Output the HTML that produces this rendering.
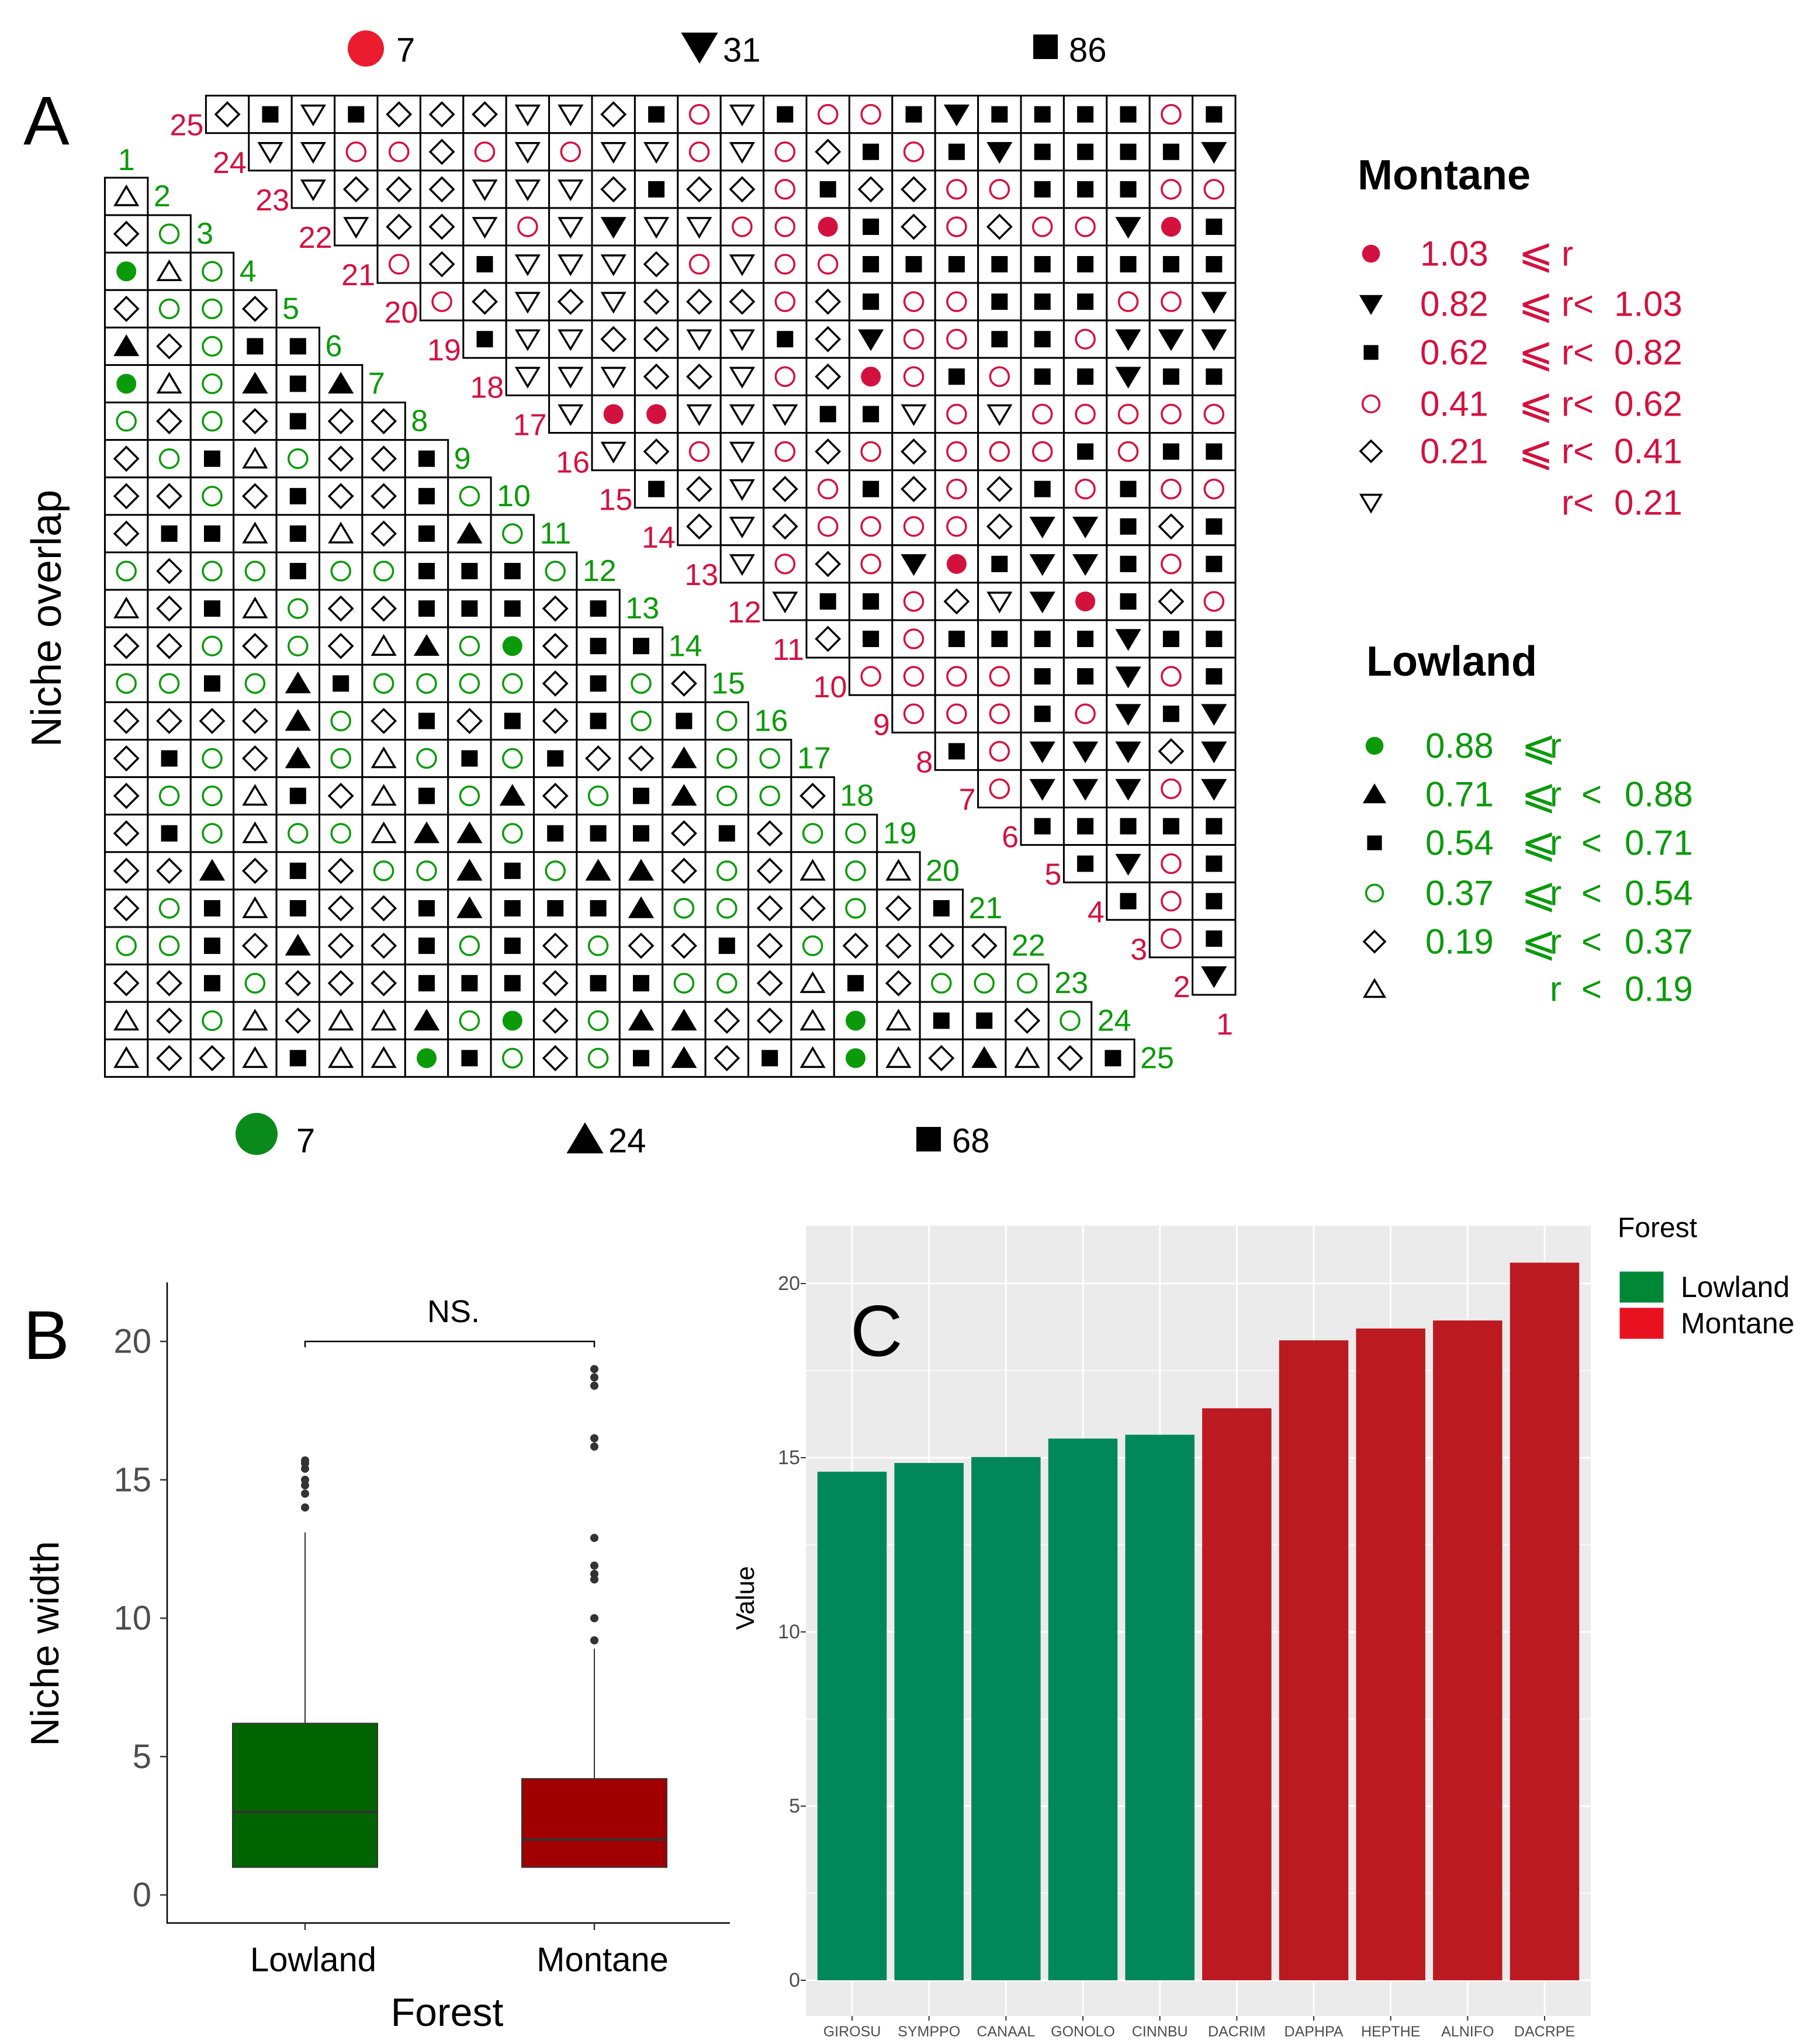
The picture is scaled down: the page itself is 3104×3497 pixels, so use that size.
<!DOCTYPE html>
<html><head><meta charset="utf-8"><style>
html,body{margin:0;padding:0;background:#fff;}
svg{display:block;}
text{font-family:"Liberation Sans","DejaVu Sans",sans-serif;}
</style></head>
<body>
<svg id="fig" width="3104" height="3497" viewBox="0 0 3104 3497" xmlns="http://www.w3.org/2000/svg">
<rect x="0" y="0" width="3104" height="3497" fill="#fff"/>
</svg>
<script>
// ---------- Panel A data ----------
const lowRows = ["T","Do","FTo","DooD","ADoSS","FToASA","oDoDSDD","DoSToDDS","DDoDSDDSo","DSSTSTDSAo","oDooSooSSSo","TDSToDDSSSDS","DDoDoDTAoFDSS","ooSoASooooDSoD","DDDDAoDSDSDSoSo","DSoDAoToSoSDDAoo","DooTSDTSoADoSAooD","DSoTooTAAoSSSDSDoo","DDADSDooASoAADoDToT","DoSTSDDSASSSAooDDoDS","ooSDADDSoSDoDDSDoDDDD","DDSoDDDSSSDSSooDTSDooo","TDoTDTTAoFDoAADDTFTSSDo","TDDTSTTFSoDoSADSTFTDATDS"];
const upRows = ["DSVSDDDVVDSoVSooSWSSSSoS","VVooDoVoVVoVoDSoSWSSSSW","VDDDVVVDSDDoSDDooSSSoo","VDDVoVWVVooRSDoDooWRS","oDSVVVDoVooSSSSSSSSS","oDVDVDDDoDSooSSSooW","SVVDDVVSDWooSSoWWW","VVVDDVoDRoSoSSWSS","VRRVVVSSVoVooooo","VDoVoDoDoooSoSS","SDVDoSDoDSoSoo","DVDooooDWWSDS","VoDoWRSWWSoS","VSSoDVWRSDo","DSoSSSSWSS","ooooSSWoS","oooSoWSW","SoWWWDW","oWWWoW","SSSSS","SWoS","SoS","oS","W"];
const topCounts = [7,31,86];
const bottomCounts = [7,24,68];
const montaneBreaks = ["1.03","0.82","0.62","0.41","0.21"];
const lowlandBreaks = ["0.88","0.71","0.54","0.37","0.19"];

// ---------- Panel B data ----------
const boxGroups = ["Lowland","Montane"];
const boxQ1 = [1.0, 1.0];
const boxMedian = [3.0, 2.0];
const boxQ3 = [6.2, 4.2];
const boxWhiskerLow = [1.0, 1.0];
const boxWhiskerHigh = [13.1, 8.9];
const lowlandOutliers = [14.0, 14.5, 14.8, 15.0, 15.4, 15.6, 15.7];
const montaneOutliers = [9.2, 10.0, 11.4, 11.6, 11.9, 12.9, 16.2, 16.5, 18.4, 18.7, 19.0];
const boxYTicks = [0,5,10,15,20];

// ---------- Panel C data ----------
const barCategories = ["GIROSU","SYMPPO","CANAAL","GONOLO","CINNBU","DACRIM","DAPHPA","HEPTHE","ALNIFO","DACRPE"];
const barValues = [14.6, 14.85, 15.02, 15.55, 15.66, 16.42, 18.37, 18.71, 18.94, 20.6];
const barForest = ["Lowland","Lowland","Lowland","Lowland","Lowland","Montane","Montane","Montane","Montane","Montane"];
const barYTicks = [0,5,10,15,20];

const NS = "http://www.w3.org/2000/svg";
const svg = document.getElementById('fig');
function mk(tag, attrs, parent){
  const e = document.createElementNS(NS, tag);
  for (const k in attrs) e.setAttribute(k, attrs[k]);
  (parent||svg).appendChild(e);
  return e;
}
function txt(s, attrs, parent){ const t = mk('text', attrs, parent); t.textContent = s; return t; }

const GREEN = "#0a9a0a", RED = "#d3113f";

function sym(ch, cx, cy, parent, scale){
  const s = scale||1;
  let e;
  if (ch==='T'||ch==='A'){
    e = mk('polygon',{points:`${cx-19*s},${cy+15*s} ${cx+19*s},${cy+15*s} ${cx},${cy-17*s}`, fill: ch==='A'?'#000':'none', stroke:'#000','stroke-width':3.5}, parent);
  } else if (ch==='V'||ch==='W'){
    e = mk('polygon',{points:`${cx-19*s},${cy-15*s} ${cx+19*s},${cy-15*s} ${cx},${cy+17*s}`, fill: ch==='W'?'#000':'none', stroke:'#000','stroke-width':3.5}, parent);
  } else if (ch==='D'){
    e = mk('polygon',{points:`${cx},${cy-20*s} ${cx+20*s},${cy} ${cx},${cy+20*s} ${cx-20*s},${cy}`, fill:'none', stroke:'#000','stroke-width':3.5}, parent);
  } else if (ch==='S'){
    e = mk('rect',{x:cx-14*s,y:cy-14*s,width:28*s,height:28*s,fill:'#000'}, parent);
  } else if (ch==='o'){
    e = mk('circle',{cx:cx,cy:cy,r:16*s,fill:'none',stroke:GREEN,'stroke-width':3.5}, parent);
  } else if (ch==='O'){
    e = mk('circle',{cx:cx,cy:cy,r:16*s,fill:'none',stroke:RED,'stroke-width':3.5}, parent);
  } else if (ch==='F'){
    e = mk('circle',{cx:cx,cy:cy,r:17*s,fill:GREEN}, parent);
  } else if (ch==='R'){
    e = mk('circle',{cx:cx,cy:cy,r:17*s,fill:RED}, parent);
  }
  return e;
}

// ================= Panel A =================
const gA = mk('g',{});


const X0 = 179.5, Y0 = 304, CW = 73.4, CH = 64.1;
const RIGHT = 2114, TOP = 163.6;

const gLow = mk('g',{},gA);


lowRows.forEach((row, ri) => {
  const k = ri+1;
  for (let i=0;i<row.length;i++){
    const x = X0 + i*CW, y = Y0 + (k-1)*CH;
    const cell = mk('g',{},gLow);
    
    
    mk('rect',{x:x,y:y,width:CW,height:CH,fill:'#fff',stroke:'#000','stroke-width':3},cell);
    sym(row[i], x+CW/2, y+CH/2, cell);
  }
});
const l1 = txt("1",{x:X0+CW/2,y:Y0-30,'font-size':52,fill:GREEN,'text-anchor':'middle','dominant-baseline':'central'},gA);


for (let k=1;k<=24;k++){
  const t = txt(String(k+1),{x:X0+k*CW+10,y:Y0+(k-0.5)*CH,'font-size':52,fill:GREEN,'dominant-baseline':'central'},gA);
  
  
}

const gUp = mk('g',{},gA);


upRows.forEach((row, ri) => {
  const j = ri+1;
  const n = row.length;
  const xs = RIGHT - n*CW;
  for (let i=0;i<n;i++){
    const x = xs + i*CW, y = TOP + (j-1)*CH;
    const cell = mk('g',{},gUp);
    
    
    mk('rect',{x:x,y:y,width:CW,height:CH,fill:'#fff',stroke:'#000','stroke-width':3},cell);
    const ch = row[i]==='o' ? 'O' : row[i];
    sym(ch, x+CW/2, y+CH/2, cell);
  }
});
for (let j=1;j<=25;j++){
  const n = 25-j;
  const t = txt(String(26-j),{x:RIGHT-n*CW-4,y:TOP+j*CH-13,'font-size':52,fill:RED,'text-anchor':'end','dominant-baseline':'central'},gA);
  
  
}

const topSyms = ['R','W','S'];
const topX = [626,1197,1789];
topSyms.forEach((c,i)=>{
  const g = mk('g',{},gA);
  
  
  if (c==='R') mk('circle',{cx:topX[i],cy:83,r:31,fill:'#ea1c2d'},g);
  else sym(c, topX[i], 80, g, 1.5);
  txt(String(topCounts[i]),{x:topX[i]+(c==='R'?52:40),y:86,'font-size':58,fill:'#000','dominant-baseline':'central'},g);
});
const botSyms = ['F','A','S'];
const botX = [439,1001,1589];
botSyms.forEach((c,i)=>{
  const g = mk('g',{},gA);
  
  
  if (c==='F') mk('circle',{cx:botX[i],cy:1940,r:36,fill:'#0a8a1a'},g);
  else sym(c, botX[i], 1949, g, 1.5);
  txt(String(bottomCounts[i]),{x:botX[i]+(c==='F'?68:40),y:1952,'font-size':58,fill:'#000','dominant-baseline':'central'},g);
});

const la = txt("A",{x:40,y:247,'font-size':118,fill:'#000'},gA);


const yA = txt("Niche overlap",{x:0,y:0,'font-size':72,fill:'#000','text-anchor':'middle',transform:'translate(104,1058) rotate(-90)'},gA);



// legends
const gML = mk('g',{},gA);


txt("Montane",{x:2323,y:300,'font-size':72,'font-weight':'bold',fill:'#000','dominant-baseline':'central'},gML);
const mSyms = ['R','W','S','O','D','V'];
const mY = [434,520,603,691,772,860];
mSyms.forEach((c,i)=>{
  const g = mk('g',{},gML);
  
  
  sym(c, 2346, mY[i], g, 0.9);
  const fs = {'font-size':60,fill:RED,'dominant-baseline':'central'};
  if (i<5) txt(montaneBreaks[i],Object.assign({x:2430,y:mY[i]},fs),g);
  if (i<5) txt("⩽",Object.assign({x:2598,y:mY[i]},fs,{'font-size':72}),g);
  txt(i===0?"r":"r<",Object.assign({x:2672,y:mY[i]},fs),g);
  if (i>0) txt(montaneBreaks[i-1],Object.assign({x:2762,y:mY[i]},fs),g);
});
const gLL = mk('g',{},gA);


txt("Lowland",{x:2338,y:1132,'font-size':72,'font-weight':'bold',fill:'#000','dominant-baseline':'central'},gLL);
const lSyms = ['F','A','S','o','D','T'];
const lY = [1276,1359,1442,1528,1611,1692];
lSyms.forEach((c,i)=>{
  const g = mk('g',{},gLL);
  
  
  sym(c, 2352, lY[i], g, 0.9);
  const fs = {'font-size':60,fill:GREEN,'dominant-baseline':'central'};
  if (i<5) txt(lowlandBreaks[i],Object.assign({x:2439,y:lY[i]},fs),g);
  if (i<5) txt("⩽",Object.assign({x:2603,y:lY[i]},fs,{'font-size':72}),g);
  txt("r",Object.assign({x:2652,y:lY[i]},fs),g);
  if (i>0) txt("<",Object.assign({x:2706,y:lY[i]},fs),g);
  if (i>0) txt(lowlandBreaks[i-1],Object.assign({x:2780,y:lY[i]},fs),g);
});

// ================= Panel B =================
const gB = mk('g',{});


const bAxX = 286, bTop = 2194, bBot = 3290, bRight = 1249;
const bY = v => 3242 - v*47.35;
const bX = i => [522,1017][i];
const boxFill = ["#006400","#a00000"];
const lb = txt("B",{x:40,y:2325,'font-size':118,fill:'#000'},gB);


const bAxes = mk('path',{d:`M${bAxX},${bTop} L${bAxX},${bBot} L${bRight},${bBot}`,fill:'none',stroke:'#000','stroke-width':2.5},gB);


boxYTicks.forEach(v=>{
  mk('line',{x1:bAxX-12,x2:bAxX,y1:bY(v),y2:bY(v),stroke:'#333','stroke-width':2.5},gB);
  const t = txt(String(v),{x:259,y:bY(v),'font-size':58,fill:'#4d4d4d','text-anchor':'end','dominant-baseline':'central'},gB);
  
  
});
boxGroups.forEach((g,i)=>{
  const cx = bX(i), hw = 124;
  const gg = mk('g',{},gB);
  
  
  mk('line',{x1:cx,x2:cx,y1:bY(boxQ3[i]),y2:bY(boxWhiskerHigh[i]),stroke:'#333','stroke-width':2},gg);
  mk('line',{x1:cx,x2:cx,y1:bY(boxQ1[i]),y2:bY(boxWhiskerLow[i]),stroke:'#333','stroke-width':2},gg);
  mk('rect',{x:cx-hw,y:bY(boxQ3[i]),width:2*hw,height:bY(boxQ1[i])-bY(boxQ3[i]),fill:boxFill[i],stroke:'#333','stroke-width':2},gg);
  mk('line',{x1:cx-hw,x2:cx+hw,y1:bY(boxMedian[i]),y2:bY(boxMedian[i]),stroke:'#333','stroke-width':4},gg);
  const outs = i===0?lowlandOutliers:montaneOutliers;
  outs.forEach(v=>{
    const c = mk('circle',{cx:cx,cy:bY(v),r:7,fill:'#333'},gg);
    
    
  });
  mk('line',{x1:cx,x2:cx,y1:bBot,y2:bBot+12,stroke:'#333','stroke-width':2.5},gB);
  const t = txt(g,{x:cx+14,y:3353,'font-size':58,fill:'#000','text-anchor':'middle','dominant-baseline':'central'},gB);
  
  
});
const br = mk('path',{d:`M${bX(0)},${bY(20)+10} L${bX(0)},${bY(20)} L${bX(1)},${bY(20)} L${bX(1)},${bY(20)+10}`,fill:'none',stroke:'#000','stroke-width':2.5},gB);


const ns = txt("NS.",{x:776,y:2262,'font-size':54,fill:'#000','text-anchor':'middle'},gB);


const bxt = txt("Forest",{x:765,y:3443,'font-size':68,fill:'#000','text-anchor':'middle','dominant-baseline':'central'},gB);


const byt = txt("Niche width",{x:0,y:0,'font-size':68,fill:'#000','text-anchor':'middle',transform:'translate(100,2812) rotate(-90)'},gB);



// ================= Panel C =================
const gC = mk('g',{});


const cL = 1379, cR = 2722, cT = 2097, cB = 3449;
const cY = v => 3388 - v*59.6;
const band = (cR-cL)/10.2;
const cX = i => cL + (i+1-0.4)*band;
const bg = mk('rect',{x:cL,y:cT,width:cR-cL,height:cB-cT,fill:'#ebebeb'},gC);


for (let v=-2.5; v<=22.5; v+=2.5){
  const y = cY(v);
  if (y<cT||y>cB) continue;
  const major = Math.abs(v%5)<1e-9;
  mk('line',{x1:cL,x2:cR,y1:y,y2:y,stroke:'#fff','stroke-width':major?3:1.5},gC);
}
barCategories.forEach((c,i)=>{
  mk('line',{x1:cX(i),x2:cX(i),y1:cT,y2:cB,stroke:'#fff','stroke-width':3},gC);
});
barCategories.forEach((c,i)=>{
  const w = band*0.9;
  const r = mk('rect',{x:cX(i)-w/2,y:cY(barValues[i]),width:w,height:cY(0)-cY(barValues[i]),fill:barForest[i]==='Lowland'?'#00875a':'#bb1a20'},gC);
  
  
  mk('line',{x1:cX(i),x2:cX(i),y1:cB,y2:cB+8,stroke:'#333','stroke-width':2},gC);
  const t = txt(c,{x:cX(i),y:3476,'font-size':25,fill:'#4d4d4d','text-anchor':'middle','dominant-baseline':'central','font-family':'"Liberation Sans Narrow","Liberation Sans",sans-serif'},gC);
  
  
});
barYTicks.forEach(v=>{
  mk('line',{x1:cL-9,x2:cL,y1:cY(v),y2:cY(v),stroke:'#333','stroke-width':2},gC);
  const t = txt(String(v),{x:cL-10,y:cY(v),'font-size':34,fill:'#4d4d4d','text-anchor':'end','dominant-baseline':'central','font-family':'"Liberation Sans Narrow","Liberation Sans",sans-serif'},gC);
  
  
});
const vt = txt("Value",{x:0,y:0,'font-size':44,fill:'#000','text-anchor':'middle',transform:'translate(1290,2734) rotate(-90)'},gC);


const lc = txt("C",{x:1455,y:2320,'font-size':124,fill:'#000'},gC);


const gLeg = mk('g',{},gC);


txt("Forest",{x:2768,y:2101,'font-size':48,fill:'#000','dominant-baseline':'central','font-family':'"Liberation Sans Narrow","Liberation Sans",sans-serif'},gLeg);
const legItems = ["Lowland","Montane"];
const legCols = ["#008837","#e8111f"];
legItems.forEach((s,i)=>{
  const g = mk('g',{},gLeg);
  
  
  const y = 2174 + i*62;
  mk('rect',{x:2770,y:y,width:78,height:56,fill:legCols[i],stroke:'#fff','stroke-width':3},g);
  txt(s,{x:2876,y:y+28,'font-size':50,fill:'#000','dominant-baseline':'central','font-family':'"Liberation Sans Narrow","Liberation Sans",sans-serif'},g);
});
</script>
</body></html>
